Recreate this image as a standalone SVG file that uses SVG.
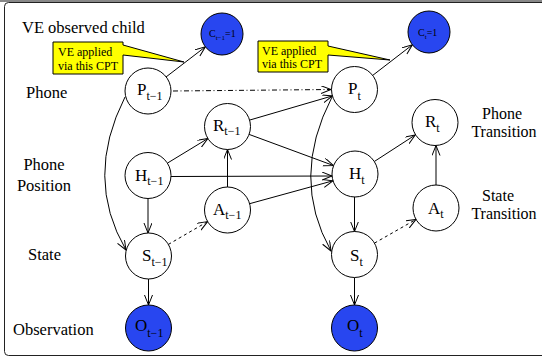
<svg xmlns="http://www.w3.org/2000/svg" width="542" height="358" viewBox="0 0 542 358">
<defs>
<marker id="arr" markerUnits="userSpaceOnUse" markerWidth="12" markerHeight="10" refX="10" refY="4" orient="auto">
<path d="M0,0 L10,4 L0,8" fill="none" stroke="#000" stroke-width="1"/>
</marker>
<style>
.frame{fill:none;stroke:#222;stroke-width:1}
.node{fill:#fff;stroke:#000;stroke-width:1}
.obs{fill:#2846f0;stroke:#000;stroke-width:1}
.e{fill:none;stroke:#000;stroke-width:1;marker-end:url(#arr)}
.dash{stroke-dasharray:3,3}
.dashdot{stroke-dasharray:5,2.5,1,2.5}
.lbl{font-family:"Liberation Serif","Times New Roman",serif;font-size:16.5px;fill:#000}
.rl{font-size:16px}
.n{font-family:"Liberation Serif","Times New Roman",serif;font-size:17px;fill:#000}
.s{font-size:12px}
.c{font-family:"Liberation Serif","Times New Roman",serif;font-size:10px;fill:#000}
.cs{font-size:7px}
.call{fill:#ffff00;stroke:#000;stroke-width:1}
.ct{font-family:"Liberation Serif","Times New Roman",serif;font-size:12px;fill:#000}
</style>
</defs>
<rect width="542" height="358" fill="#fff"/>
<line x1="0" y1="1" x2="542" y2="1" stroke="#888" stroke-width="2"/>
<rect class="frame" x="4.5" y="2.5" width="600" height="353" rx="4"/>

<g id="labels">
<text class="lbl" x="22" y="33">VE observed child</text>
<text class="lbl" x="26" y="98">Phone</text>
<text class="lbl" x="44" y="170" text-anchor="middle">Phone</text>
<text class="lbl" x="44" y="191" text-anchor="middle">Position</text>
<text class="lbl" x="28" y="260">State</text>
<text class="lbl" x="13" y="335">Observation</text>
<text class="lbl rl" x="502" y="119" text-anchor="middle">Phone</text>
<text class="lbl rl" x="504" y="137" text-anchor="middle">Transition</text>
<text class="lbl rl" x="498" y="201" text-anchor="middle">State</text>
<text class="lbl rl" x="504" y="219" text-anchor="middle">Transition</text>
</g>

<g id="callout1">
<polygon class="call" points="53,42 123,42 123,45 184,62 123,55 123,74 53,74"/>
<text class="ct" x="58" y="56">VE applied</text>
<text class="ct" x="58" y="70">via this CPT</text>
</g>
<g id="callout2">
<polygon class="call" points="258,41 328,41 328,46 390,60 328,55 328,72 258,72"/>
<text class="ct" x="262" y="55">VE applied</text>
<text class="ct" x="262" y="68">via this CPT</text>
</g>

<g id="connectors">
<line class="e" x1="166" y1="77" x2="205.4" y2="46.8"/>
<line class="e" x1="372.7" y1="75.4" x2="412.4" y2="44.8"/>
<line class="e dashdot" x1="173" y1="91" x2="331" y2="89.5"/>
<line class="e" x1="249.6" y1="120.1" x2="332.4" y2="95.9"/>
<line class="e" x1="249.1" y1="134.4" x2="333.4" y2="165.5"/>
<line class="e" x1="167.6" y1="163" x2="207.9" y2="138.5"/>
<line class="e" x1="171" y1="176.5" x2="332" y2="176"/>
<line class="e" x1="227.5" y1="187" x2="227.5" y2="149.5"/>
<line class="e" x1="249.6" y1="203.7" x2="332.9" y2="180.8"/>
<line class="e" x1="148" y1="198.5" x2="148" y2="233"/>
<line class="e dash" x1="168.4" y1="244.4" x2="207.6" y2="221.6"/>
<line class="e" x1="148.5" y1="279" x2="148.5" y2="305"/>
<path class="e" d="M125,97 Q84,178 126,250"/>
<path class="e" d="M332,97 Q290,178 331,251"/>
<line class="e" x1="374.3" y1="161.5" x2="415.2" y2="135"/>
<line class="e" x1="354.5" y1="197" x2="354.5" y2="231.5"/>
<line class="e" x1="436" y1="185" x2="436" y2="145.5"/>
<line class="e dash" x1="374.5" y1="243.1" x2="416" y2="219.4"/>
<line class="e" x1="354.5" y1="277.5" x2="354.5" y2="305"/>
</g>

<g id="C_t-1"><circle class="obs" cx="222" cy="34" r="21"/>
<text class="c" x="209" y="37">C<tspan class="cs" dy="2.5">t−1</tspan><tspan dy="-2.5">=1</tspan></text></g>
<g id="C_t"><circle class="obs" cx="429" cy="32" r="21"/>
<text class="c" x="418" y="36">C<tspan class="cs" dy="2.5">t</tspan><tspan dy="-2.5">=1</tspan></text></g>

<g id="P_t-1"><circle class="node" cx="148" cy="91" r="23"/>
<text class="n" x="137" y="95">P<tspan class="s" dy="5">t−1</tspan></text></g>
<g id="P_t"><circle class="node" cx="354.5" cy="89.5" r="23"/>
<text class="n" x="348" y="94">P<tspan class="s" dy="6">t</tspan></text></g>

<g id="R_t-1"><circle class="node" cx="227.5" cy="126.5" r="23"/>
<text class="n" x="213" y="131">R<tspan class="s" dy="4">t−1</tspan></text></g>
<g id="R_t"><circle class="node" cx="435" cy="122.5" r="23"/>
<text class="n" x="425" y="127">R<tspan class="s" dy="5">t</tspan></text></g>

<g id="H_t-1"><circle class="node" cx="148" cy="175.5" r="23"/>
<text class="n" x="135" y="181">H<tspan class="s" dy="4">t−1</tspan></text></g>
<g id="H_t"><circle class="node" cx="355" cy="174" r="23"/>
<text class="n" x="349" y="179">H<tspan class="s" dy="5">t</tspan></text></g>

<g id="A_t-1"><circle class="node" cx="227.5" cy="210" r="23"/>
<text class="n" x="213" y="215">A<tspan class="s" dy="4">t−1</tspan></text></g>
<g id="A_t"><circle class="node" cx="436" cy="208" r="23"/>
<text class="n" x="428" y="214">A<tspan class="s" dy="4">t</tspan></text></g>

<g id="S_t-1"><circle class="node" cx="148.5" cy="256" r="23"/>
<text class="n" x="142" y="261">S<tspan class="s" dy="5">t−1</tspan></text></g>
<g id="S_t"><circle class="node" cx="354.5" cy="254.5" r="23"/>
<text class="n" x="350" y="261">S<tspan class="s" dy="5">t</tspan></text></g>

<g id="O_t-1"><circle class="obs" cx="148.5" cy="328" r="23"/>
<text class="n" x="135" y="331">O<tspan class="s" dy="6">t−1</tspan></text></g>
<g id="O_t"><circle class="obs" cx="354.5" cy="328" r="23"/>
<text class="n" x="347" y="331">O<tspan class="s" dy="6">t</tspan></text></g>
</svg>
